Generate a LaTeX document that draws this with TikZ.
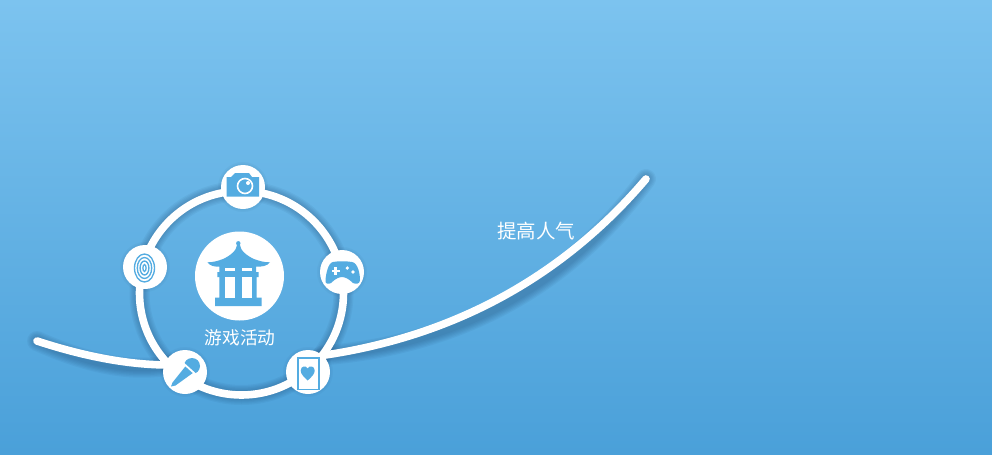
\documentclass[tikz,border=0pt]{standalone}
\usepackage{fontspec}
\newfontfamily\cjk{Noto Sans CJK SC}
\usetikzlibrary{backgrounds}
\definecolor{skytop}{RGB}{124,195,239}
\definecolor{skybottom}{RGB}{74,160,217}
\definecolor{iconblue}{RGB}{84,172,225}
\definecolor{shadowblue}{RGB}{20,55,95}
\tikzset{every picture/.style={line width=0.75pt}}
\tikzset{
  badge/.style={circle,fill=white,minimum size=33pt,inner sep=0pt},
  hub/.style={circle,fill=white,minimum size=66.75pt,inner sep=0pt},
  caption/.style={text=white,inner sep=0.75pt,font=\cjk},
  whiteline/.style={draw=white,line width=5.7pt,line cap=round},
  icon/.style={fill=iconblue,draw=none},
  iconline/.style={draw=iconblue,line width=1pt}
}

\begin{document}
\begin{tikzpicture}[x=0.75pt,y=0.75pt,yscale=-1,xscale=1]
\useasboundingbox (0,0) rectangle (992,454);

% Nodes
\coordinate (ringcentre) at (241.5,293);
\coordinate (tailstart) at (37,341);
\coordinate (tailleft) at (170,365);
\coordinate (tailright) at (322,355.5);
\coordinate (tailend) at (646,179);
\draw (239.5,276) node [hub] (hubnode) {};
\draw (243,187) node [badge] (camera) {};
\draw (342,272) node [badge] (gamepad) {};
\draw (308,372) node [badge] (card) {};
\draw (185,372) node [badge] (mic) {};
\draw (145,267) node [badge] (print) {};

% Text Node
\draw (240,338) node [caption,font=\cjk\fontsize{13.3pt}{16pt}\selectfont] (gamelabel) {游戏活动};
% Text Node
\draw (536,231) node [caption,font=\cjk\fontsize{14.6pt}{17pt}\selectfont] (raiselabel) {提高人气};

\begin{scope}[on background layer]
\fill [top color=skytop,bottom color=skybottom] (0,0) rectangle (992,454);
%Shadows
\foreach \w in {20,17.5,15,12.5,10,7.5} {
  \begin{scope}[shift={(6,8)},opacity=0.055]
  \draw [shadowblue,line width=\w*0.75pt,line cap=round] (ringcentre) circle (102);
  \draw [shadowblue,line width=\w*0.75pt,line cap=round] (tailstart) .. controls (80,355) and (125,365) .. (tailleft);
  \draw [shadowblue,line width=\w*0.75pt,line cap=round] (tailright) .. controls (450,337) and (560,280) .. (tailend);
  \end{scope}
}
\foreach \n in {camera,gamepad,card,mic,print} {
  \foreach \w in {6,3,0} {
    \fill [shadowblue,opacity=0.04,shift={(2,3)}] (\n.center) circle (22+\w*0.5);
  }
}
%Lines
\draw [whiteline] (ringcentre) circle (102);
\draw [whiteline] (tailstart) .. controls (80,355) and (125,365) .. (tailleft);
\draw [whiteline] (tailright) .. controls (450,337) and (560,280) .. (tailend);
\end{scope}

%Pavilion
\fill [icon] (238.3,243.3) circle (2.2);
\fill [icon] (237,245) -- (240,245) .. controls (240,250) and (247,256) .. (254,259) .. controls (259,261) and (265,262.5) .. (270,262.3) .. controls (267,266) and (262,267) .. (256,266.5) -- (256,272) -- (258.5,272) -- (258.5,277) -- (256.7,277) -- (256.7,297.7) -- (261.7,297.7) -- (261.7,306) -- (215,306) -- (215,297.7) -- (219.3,297.7) -- (219.3,277) -- (217.3,277) -- (217.3,272) -- (219.3,272) -- (219.3,266.5) .. controls (215,267) and (210,266) .. (207.3,262.3) .. controls (212,262.5) and (218,261) .. (223,259) .. controls (230,256) and (237,250) .. (237,245) -- cycle;
\fill [white] (225,267.5) rectangle (235,270.7);
\fill [white] (241.7,267.5) rectangle (251.7,270.7);
\fill [white] (225,276.7) rectangle (235,297.7);
\fill [white] (241.7,276.7) rectangle (251.7,297.7);

%Camera
\fill [icon] (226.5,177) -- (231,177) -- (235,173) -- (249,173) -- (252,177) -- (259,177) -- (259,196.5) -- (226.5,196.5) -- cycle;
\draw [white,line width=1.2pt] (245,186) circle (7.5);
\fill [white] (248,183) circle (2);

%Fingerprint
\foreach \rx/\ry in {10/14,7.2/10.5,4.4/7,1.6/3.4} {
  \draw [iconline] (144.5,268) ellipse ({\rx} and {\ry});
}

%Gamepad
\fill [icon] (333,262) .. controls (338,261) and (346,261) .. (352,262) .. controls (358,263) and (360,274) .. (360,280) .. controls (360,284) and (356,284.5) .. (353,283) .. controls (349,279) and (345,277) .. (342,277) .. controls (339,277) and (335,279) .. (331,283) .. controls (328,284.5) and (325,284) .. (325.5,280) .. controls (326,274) and (328,263) .. (333,262) -- cycle;
\fill [white] (331.5,269.5) rectangle (339.5,272);
\fill [white] (334.3,266.7) rectangle (336.8,274.7);
\fill [white] (347.3,268) circle (1.8);
\fill [white] (353,272) circle (1.8);

%Card
\draw [iconline,line width=1.25pt] (298,358) rectangle (319,389.5);
\fill [icon] (307.7,380.5) .. controls (303.5,376.5) and (300.7,374) .. (300.7,370.5) .. controls (300.7,366) and (306,365) .. (307.7,368.5) .. controls (309.4,365) and (314.7,366) .. (314.7,370.5) .. controls (314.7,374) and (311.9,376.5) .. (307.7,380.5) -- cycle;

%Microphone
\fill [icon] (192,366) circle (8);
\draw [white,line width=6pt] (180.8,365.2) -- (194.5,377.5);
\fill [icon] (171,386.5) -- (172.5,382.5) -- (185.3,366.5) -- (192.7,373.1) -- (175.5,385.5) -- cycle;

\end{tikzpicture}
\end{document}
